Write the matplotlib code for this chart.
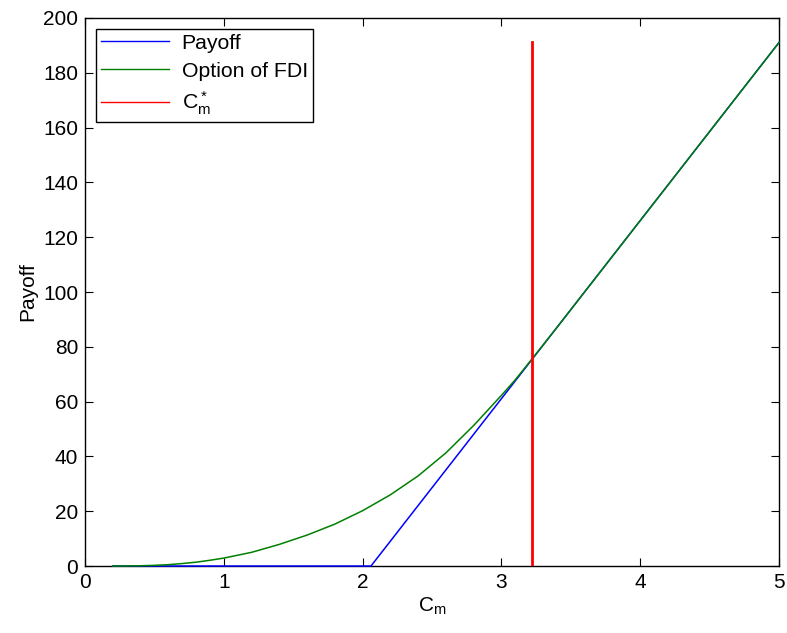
import numpy as np
import matplotlib
matplotlib.use("Agg")
import matplotlib.pyplot as plt
from matplotlib.lines import Line2D

plt.rcParams['font.family'] = ['Liberation Sans', 'DejaVu Sans']
plt.rcParams['mathtext.fontset'] = 'custom'
plt.rcParams['mathtext.rm'] = 'Liberation Sans'
plt.rcParams['mathtext.it'] = 'Liberation Sans'
plt.rcParams['mathtext.default'] = 'regular'

# payoff (kinked line)
payoff_x = [0.2, 2.06, 5.0]
payoff_y = [0.0, 0.0, 191.1]

# option value of FDI
option_x = [0.2, 0.3, 0.4, 0.5, 0.6, 0.7, 0.8, 0.9, 1.0, 1.2, 1.4, 1.6, 1.8,
            2.0, 2.2, 2.4, 2.6, 2.8, 3.0, 3.1, 3.2, 3.4, 3.6, 3.8, 4.0, 4.2,
            4.4, 4.6, 4.8, 5.0]
option_y = [0.0, 0.02, 0.1, 0.25, 0.5, 0.9, 1.4, 2.1, 2.9, 5.0, 7.9, 11.3,
            15.3, 20.2, 26.0, 32.9, 41.3, 51.3, 62.3, 68.0, 74.3, 87.1, 100.1,
            113.1, 126.1, 139.1, 152.1, 165.1, 178.1, 191.1]

# threshold C_m*
c_star = 3.22

fig = plt.figure(figsize=(7.87, 6.33), dpi=100)
ax = fig.add_axes([0.108, 0.1058, 0.882, 0.8658])

ax.plot(payoff_x, payoff_y, color=(0, 0, 1), lw=1.1, clip_on=False, zorder=4)
ax.plot(option_x, option_y, color=(0, 0.5, 0), lw=1.1, clip_on=False, zorder=4)
ax.plot([c_star, c_star], [0, max(payoff_y)], color=(1, 0, 0), lw=2, zorder=5)

ax.set_xlim(0, 5)
ax.set_ylim(0, 200)
ax.set_xticks(np.arange(0, 6, 1))
ax.set_yticks(np.arange(0, 201, 20))
ax.tick_params(direction='in', length=6, width=0.8, top=True, right=True,
               labelsize=15, pad=5)
for s in ax.spines.values():
    s.set_linewidth(1)

ax.set_xlabel('$C_m$', fontsize=15, labelpad=3)
ax.set_ylabel('Payoff', fontsize=15, labelpad=4)

handles = [Line2D([], [], color=(0, 0, 1), lw=1),
           Line2D([], [], color=(0, 0.5, 0), lw=1),
           Line2D([], [], color=(1, 0, 0), lw=1)]
leg = ax.legend(handles, ['Payoff', 'Option of FDI', '$C_m^*$'],
                loc='upper left', fontsize=15.3, fancybox=False, framealpha=1,
                edgecolor='black', handlelength=3.2, borderaxespad=0.5,
                labelspacing=0.42, borderpad=0.25, handletextpad=0.6)
leg.get_frame().set_linewidth(1)

plt.savefig('out.png', dpi=100)
